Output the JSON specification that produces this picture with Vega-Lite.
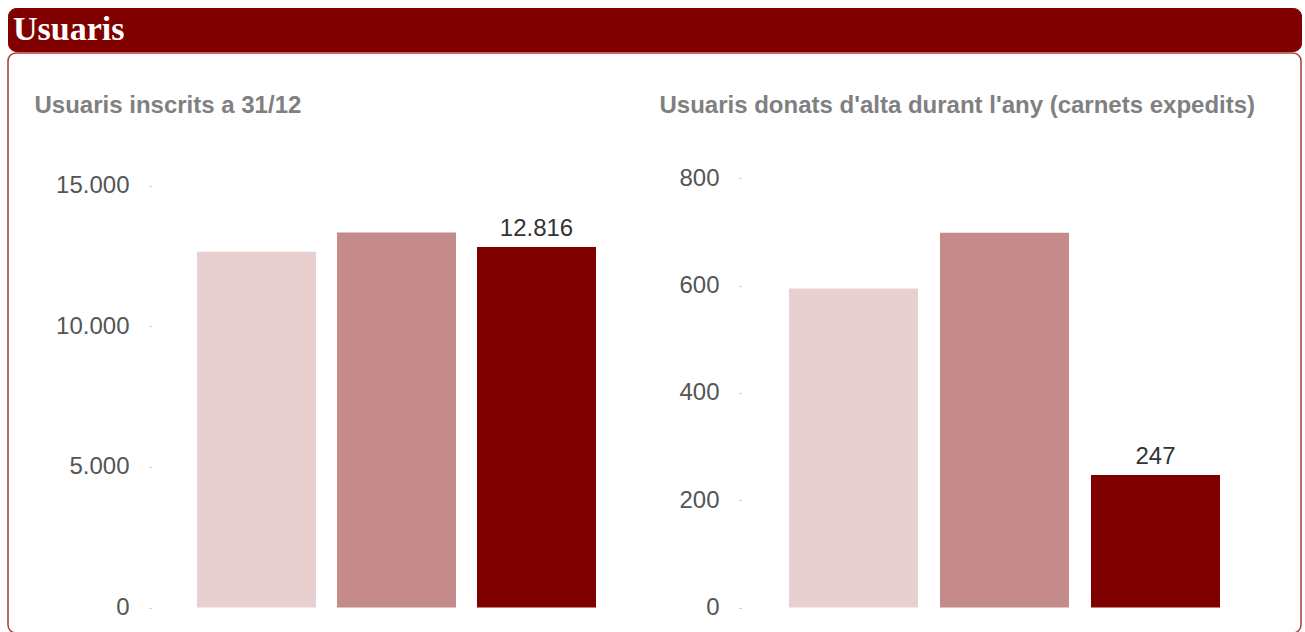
{
  "$schema": "https://vega.github.io/schema/vega-lite/v6.json",
  "padding": {"left": 7, "top": 7, "right": 5, "bottom": 2},
  "background": "white",
  "spacing": 0,
  "config": {
    "locale": {"number": {"decimal": ",", "thousands": ".", "grouping": [3], "currency": ["", " €"]}},
    "axis": {"grid": false, "domain": false}
  },
  "datasets": {
    "inscrits": [
      {"serie": "1", "valor": 12650},
      {"serie": "2", "valor": 13330},
      {"serie": "3", "valor": 12816}
    ],
    "alta": [
      {"serie": "1", "valor": 595},
      {"serie": "2", "valor": 699},
      {"serie": "3", "valor": 247}
    ],
    "capcalera": [{"titol": "Usuaris"}]
  },
  "vconcat": [
    {
      "width": 1293,
      "height": 43,
      "data": {"name": "capcalera"},
      "view": {"fill": "#800000", "stroke": "#800000", "cornerRadius": 8},
      "mark": {"type": "text", "align": "left", "baseline": "alphabetic", "dx": 5, "dy": 10, "font": "Liberation Serif", "fontSize": 34, "fontWeight": "bold", "color": "white"},
      "encoding": {
        "text": {"field": "titol"},
        "x": {"datum": 0, "type": "quantitative", "scale": {"domain": [0, 1]}, "axis": null}
      }
    },
    {
      "width": 1293,
      "height": 580,
      "view": {"fill": "white", "stroke": "#a83a3a", "strokeWidth": 1.5, "cornerRadius": 8},
      "layer": [
        {
          "data": {"name": "inscrits"},
          "encoding": {
            "x": {"field": "serie", "type": "nominal", "axis": null, "scale": {"range": [189, 588], "paddingInner": 0.15, "paddingOuter": 0}},
            "y": {
              "field": "valor", "type": "quantitative",
              "scale": {"domain": [-906.5, 19713], "nice": false, "zero": false},
              "axis": {
                "orient": "left", "offset": -143, "values": [0, 5000, 10000, 15000], "format": ",.0f",
                "tickSize": 2, "tickColor": "#c0c0c0", "labelPadding": 20,
                "labelFont": "Liberation Sans", "labelFontSize": 24, "labelColor": "#555555",
                "title": "Usuaris inscrits a 31/12", "titleAngle": 0, "titleAlign": "left", "titleBaseline": "alphabetic",
                "titleX": -117, "titleY": 59, "titleFont": "Liberation Sans", "titleFontSize": 24, "titleFontWeight": "bold", "titleColor": "#808080"
              }
            },
            "color": {"field": "serie", "type": "nominal", "scale": {"domain": ["1", "2", "3"], "range": ["#e8d0d1", "#c48b8a", "#800000"]}, "legend": null}
          },
          "layer": [
            {"mark": {"type": "bar"}, "encoding": {"y2": {"datum": 0}}},
            {
              "transform": [{"filter": "datum.serie == '3'"}],
              "mark": {"type": "text", "baseline": "alphabetic", "dy": -11, "font": "Liberation Sans", "fontSize": 24, "color": "#333333"},
              "encoding": {"text": {"field": "valor", "type": "quantitative", "format": ",.0f"}, "color": {"value": "#333333"}}
            }
          ]
        },
        {
          "data": {"name": "alta"},
          "encoding": {
            "x": {"field": "serie", "type": "nominal", "axis": null, "scale": {"range": [781, 1212], "paddingInner": 0.1457, "paddingOuter": 0}},
            "y": {
              "field": "valor", "type": "quantitative",
              "scale": {"domain": [-47.55, 1034.0], "nice": false, "zero": false},
              "axis": {
                "orient": "left", "offset": -733, "values": [0, 200, 400, 600, 800], "format": ",.0f",
                "tickSize": 2, "tickColor": "#c0c0c0", "labelPadding": 20,
                "labelFont": "Liberation Sans", "labelFontSize": 24, "labelColor": "#555555",
                "title": "Usuaris donats d'alta durant l'any (carnets expedits)", "titleAngle": 0, "titleAlign": "left", "titleBaseline": "alphabetic",
                "titleX": -82, "titleY": 59, "titleFont": "Liberation Sans", "titleFontSize": 24, "titleFontWeight": "bold", "titleColor": "#808080"
              }
            },
            "color": {"field": "serie", "type": "nominal", "scale": {"domain": ["1", "2", "3"], "range": ["#e8d0d1", "#c48b8a", "#800000"]}, "legend": null}
          },
          "layer": [
            {"mark": {"type": "bar"}, "encoding": {"y2": {"datum": 0}}},
            {
              "transform": [{"filter": "datum.serie == '3'"}],
              "mark": {"type": "text", "baseline": "alphabetic", "dy": -11, "font": "Liberation Sans", "fontSize": 24, "color": "#333333"},
              "encoding": {"text": {"field": "valor", "type": "quantitative", "format": ",.0f"}, "color": {"value": "#333333"}}
            }
          ]
        }
      ],
      "resolve": {"scale": {"x": "independent", "y": "independent"}, "axis": {"x": "independent", "y": "independent"}}
    }
  ]
}
